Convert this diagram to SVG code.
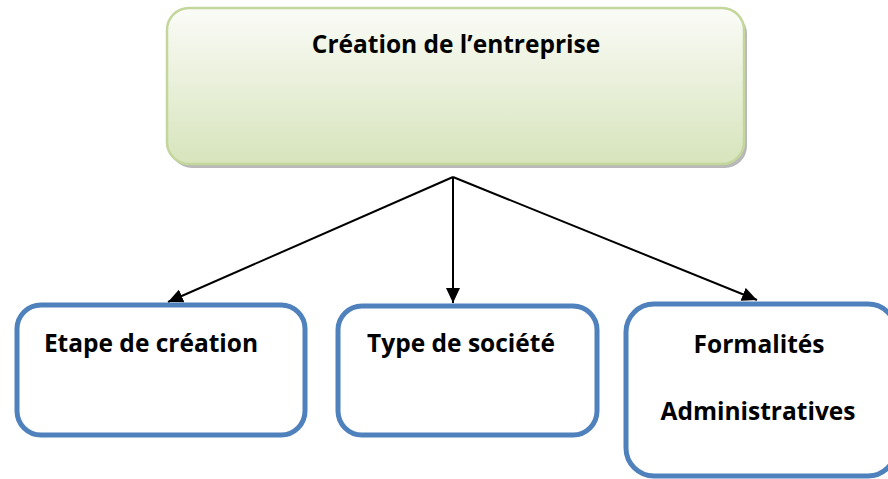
<svg xmlns="http://www.w3.org/2000/svg" width="888" height="479" viewBox="0 0 888 479">
<defs>
<linearGradient id="g" x1="0" y1="0" x2="0" y2="1">
<stop offset="0" stop-color="#fbfcf8"/>
<stop offset="0.35" stop-color="#eef3e2"/>
<stop offset="1" stop-color="#d7e4bc"/>
</linearGradient>
<marker id="ah" markerWidth="15" markerHeight="14" refX="15" refY="7" orient="auto" markerUnits="userSpaceOnUse" viewBox="0 0 15 14">
<path d="M0,0 L15,7 L0,14 z" fill="#000"/>
</marker>
<style>
.t{font-family:"Open Sans","Liberation Sans",sans-serif;font-weight:bold;fill:#000;font-size:24.5px}
.b{fill:#fff;stroke:#4f81bd;stroke-width:5}
.c{stroke:#000;stroke-width:2;fill:none;marker-end:url(#ah)}
</style>
</defs>
<g id="top">
<rect x="170" y="12" width="577" height="156" rx="22" fill="#9a9a9a" opacity="0.7"/>
<rect x="167" y="8" width="577" height="156" rx="22" fill="url(#g)" stroke="#c3d69b" stroke-width="2.5"/>
<text class="t" x="456" y="53" text-anchor="middle">Création de l’entreprise</text>
</g>
<g id="connectors">
<path class="c" d="M453,177 L168,302"/>
<path class="c" d="M453,177 L453,303"/>
<path class="c" d="M453,177 L757,300"/>
</g>
<g id="n1">
<rect class="b" x="17" y="305" width="288" height="130" rx="24"/>
<text class="t" x="151" y="352" text-anchor="middle">Etape de création</text>
</g>
<g id="n2">
<rect class="b" x="338" y="306" width="259" height="129" rx="24"/>
<text class="t" x="461" y="352" text-anchor="middle">Type de société</text>
</g>
<g id="n3">
<rect class="b" x="626" y="304" width="270" height="172" rx="28"/>
<text class="t" x="759" y="353" text-anchor="middle">Formalités</text>
<text class="t" x="758" y="420" text-anchor="middle">Administratives</text>
</g>
</svg>
